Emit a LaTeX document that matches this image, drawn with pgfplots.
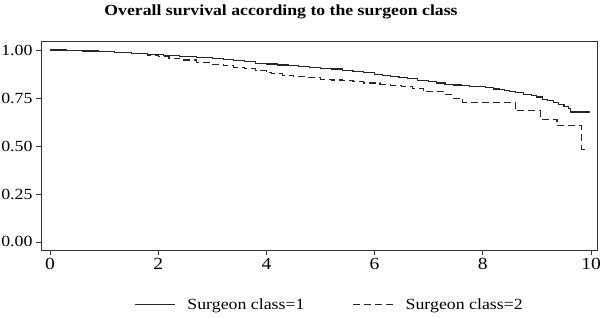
\documentclass[border=0pt]{standalone}
\usepackage{fontspec}
\setmainfont[FakeStretch=1.15]{Liberation Serif}
\usepackage{pgfplots}
\pgfplotsset{compat=1.18}
\begin{document}
\begin{tikzpicture}
\path[use as bounding box] (-41pt,-67pt) rectangle (559pt,250pt);
\begin{axis}[
  at={(0pt,0pt)}, anchor=south west,
  scale only axis, width=556pt, height=209pt,
  xmin=-0.166, xmax=10.11, ymin=-0.042, ymax=1.047,
  xtick={0,2,4,6,8,10}, ytick={0,0.25,0.5,0.75,1},
  tick align=outside, tick pos=left,
  major tick length=5pt,
  /pgf/number format/assume math mode=true,
  xticklabel style={font=\fontsize{17}{20}\selectfont},
  yticklabel style={font=\fontsize{15.5}{18}\selectfont, /pgf/number format/.cd, fixed, fixed zerofill, precision=2},
  axis line style={line width=0.8pt, black!80},
  tick style={line width=0.8pt, black!80},
  legend columns=2,
  legend style={draw=none, fill=none, at={(0.519,-0.262)}, anchor=center,
     font=\fontsize{15.5}{18}\selectfont,
     /tikz/every odd column/.append style={column sep=10pt},
     /tikz/every even column/.append style={column sep=46pt}},
  legend image code/.code={\draw[#1] (0pt,0pt) -- (40pt,0pt);},
]
\addplot[const plot, line width=1.1pt, black!85] coordinates {
(0,1.000) (0.3,0.998) (0.6,0.995) (0.9,0.992) (1.2,0.987) (1.5,0.983) (1.8,0.978)
(2.1,0.973) (2.4,0.968) (2.7,0.962) (3.0,0.954) (3.2,0.949) (3.4,0.944) (3.6,0.938)
(3.8,0.932) (4.0,0.927) (4.2,0.922) (4.4,0.918) (4.6,0.914) (4.8,0.910) (5.0,0.906)
(5.2,0.901) (5.4,0.895) (5.6,0.889) (5.8,0.881) (6.0,0.872) (6.15,0.866) (6.3,0.860)
(6.45,0.855) (6.6,0.850) (6.8,0.842) (7.0,0.835) (7.15,0.828) (7.3,0.822) (7.45,0.818)
(7.6,0.815) (7.75,0.811) (7.9,0.808) (8.05,0.803) (8.2,0.797) (8.3,0.794) (8.4,0.790)
(8.5,0.784) (8.6,0.778) (8.75,0.770) (8.9,0.765) (9.0,0.755) (9.1,0.742) (9.2,0.735)
(9.3,0.725) (9.4,0.714) (9.5,0.705) (9.58,0.696) (9.62,0.677) (9.98,0.677)
};
\addlegendentry{Surgeon class=1}
\addplot[const plot, line width=1.1pt, black!85, dash pattern=on 7pt off 4pt] coordinates {
(0,1.000) (0.3,0.998) (0.6,0.995) (0.9,0.991) (1.2,0.986) (1.5,0.981) (1.8,0.974)
(2.0,0.965) (2.2,0.956) (2.4,0.948) (2.7,0.936) (3.0,0.925) (3.2,0.918) (3.4,0.910)
(3.6,0.902) (3.8,0.893) (4.0,0.882) (4.1,0.876) (4.3,0.869) (4.5,0.862) (4.75,0.855)
(5.0,0.848) (5.2,0.844) (5.4,0.840) (5.6,0.834) (5.8,0.828) (6.1,0.822) (6.3,0.817)
(6.5,0.812) (6.7,0.800) (6.9,0.782) (7.3,0.768) (7.45,0.748) (7.63,0.728) (8.6,0.684)
(9.06,0.640) (9.37,0.606) (9.83,0.483) (9.89,0.483)
};
\addlegendentry{Surgeon class=2}
\end{axis}
\node[anchor=base, inner sep=0pt, font=\fontsize{15.4}{18}\selectfont\bfseries] at (240pt,235pt)
  {Overall survival according to the surgeon class};
\end{tikzpicture}
\end{document}
